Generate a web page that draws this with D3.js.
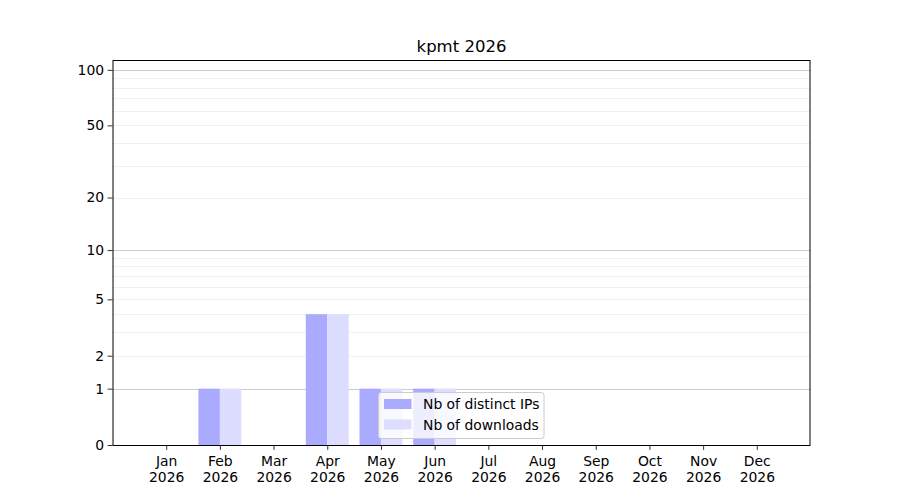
<!DOCTYPE html>
<html>
<head>
<meta charset="utf-8">
<script src="https://cdn.jsdelivr.net/npm/d3@7"></script>
<style>
  body { margin: 0; background: #fff; }
  text { font-family: "DejaVu Sans", sans-serif; fill: #000; }
</style>
</head>
<body>
<div class="graph"></div>
<script>
const months = ['Jan', 'Feb', 'Mar', 'Apr', 'May', 'Jun', 'Jul', 'Aug', 'Sep', 'Oct', 'Nov', 'Dec'];
const year = '2026';
const ips = [0, 1, 0, 4, 1, 1, 0, 0, 0, 0, 0, 0];
const downloads = [0, 1, 0, 4, 1, 1, 0, 0, 0, 0, 0, 0];
const yTicks = [0, 1, 2, 5, 10, 20, 50, 100];
const majorGrid = [1, 10, 100];
const minorGrid = [2, 3, 4, 5, 6, 7, 8, 9, 20, 30, 40, 50, 60, 70, 80, 90];
const seriesNames = ['Nb of distinct IPs', 'Nb of downloads'];
const seriesColors = ['#aaaaff', '#ddddff'];

const margin = { top: 60, left: 112.5, bottom: 55, right: 89.5 };
const width = 900 - margin.left - margin.right;
const height = 500 - margin.top - margin.bottom;

const xScale = d3.scaleLinear()
  .domain([-1, 12])
  .range([0, width]);

const yScale = d3.scaleSymlog()
  .constant(1)
  .domain([0, 113])
  .range([height, 0]);

const barW = 0.4;

const root = d3.select('.graph')
  .append('svg')
  .attr('width', 900)
  .attr('height', 500);

root.append('text')
  .attr('x', margin.left + width / 2)
  .attr('y', 52)
  .attr('text-anchor', 'middle')
  .attr('font-size', '16.5px')
  .text('kpmt ' + year);

const svg = root.append('g')
  .attr('transform', 'translate(' + margin.left + ',' + margin.top + ')');

// grid
svg.selectAll('.minor-grid')
  .data(minorGrid)
  .enter()
  .append('line')
  .attr('class', 'minor-grid')
  .attr('x1', 0)
  .attr('x2', width)
  .attr('y1', d => Math.round(yScale(d)) + 0.5)
  .attr('y2', d => Math.round(yScale(d)) + 0.5)
  .attr('stroke', '#ececec')
  .attr('stroke-width', 0.8);

svg.selectAll('.major-grid')
  .data(majorGrid)
  .enter()
  .append('line')
  .attr('class', 'major-grid')
  .attr('x1', 0)
  .attr('x2', width)
  .attr('y1', d => Math.round(yScale(d)) + 0.5)
  .attr('y2', d => Math.round(yScale(d)) + 0.5)
  .attr('stroke', '#cccccc')
  .attr('stroke-width', 1);

// bars
const seriesData = [ips, downloads];
seriesData.forEach((vals, si) => {
  svg.selectAll('.bar-' + si)
    .data(vals.map((v, i) => ({ v, i })).filter(d => d.v > 0))
    .enter()
    .append('rect')
    .attr('class', 'bar-' + si)
    .attr('fill', seriesColors[si])
    .attr('x', d => xScale(d.i - barW + si * barW))
    .attr('width', xScale(barW) - xScale(0))
    .attr('y', d => yScale(d.v))
    .attr('height', d => yScale(0) - yScale(d.v));
});

// axes
const xAxis = d3.axisBottom(xScale)
  .tickValues(d3.range(months.length))
  .tickSize(4.9)
  .tickPadding(3.5)
  .tickFormat('');

const gx = svg.append('g')
  .attr('class', 'x-axis')
  .attr('transform', `translate(0, ${height})`)
  .call(xAxis);

gx.selectAll('.tick text').remove();
gx.selectAll('.tick')
  .append('text')
  .attr('text-anchor', 'middle')
  .attr('font-size', '13.9px')
  .selectAll('tspan')
  .data(d => [months[d], year])
  .enter()
  .append('tspan')
  .attr('x', 0)
  .attr('y', (d, i) => 21 + i * 16)
  .text(d => d);

const yAxis = d3.axisLeft(yScale)
  .tickValues(yTicks)
  .tickSize(4.9)
  .tickPadding(3.5)
  .tickFormat(d3.format('d'));

svg.append('g')
  .attr('class', 'y-axis')
  .call(yAxis);

svg.selectAll('.domain').remove();
svg.selectAll('.tick line').attr('stroke', '#000').attr('stroke-width', 0.8);
svg.selectAll('.y-axis .tick text')
  .attr('font-size', '13.9px')
  .attr('fill', '#000')
  .attr('font-family', '"DejaVu Sans", sans-serif');

// frame, snapped to whole pixels
const fx0 = Math.floor(0) + 0.5, fx1 = Math.round(width) - 0.5;
svg.append('rect')
  .attr('x', fx0)
  .attr('y', 0.5)
  .attr('width', fx1 - fx0)
  .attr('height', height)
  .attr('fill', 'none')
  .attr('stroke', '#000')
  .attr('stroke-width', 1);

// legend
const legend = svg.append('g')
  .attr('transform', 'translate(' + (378.5 - margin.left) + ',' + (392.5 - margin.top) + ')');

legend.append('rect')
  .attr('width', 165.5)
  .attr('height', 46)
  .attr('rx', 2.5)
  .attr('fill', 'rgba(255,255,255,0.8)')
  .attr('stroke', '#cccccc')
  .attr('stroke-width', 1);

const items = legend.selectAll('.legend-item')
  .data(seriesNames)
  .enter()
  .append('g')
  .attr('class', 'legend-item')
  .attr('transform', (d, i) => 'translate(5.5,' + (6.5 + i * 20.5) + ')');

items.append('rect')
  .attr('width', 27.5)
  .attr('height', 10)
  .attr('fill', (d, i) => seriesColors[i]);

items.append('text')
  .attr('x', 39)
  .attr('y', 10)
  .attr('font-size', '13.9px')
  .text(d => d);
</script>
</body>
</html>
